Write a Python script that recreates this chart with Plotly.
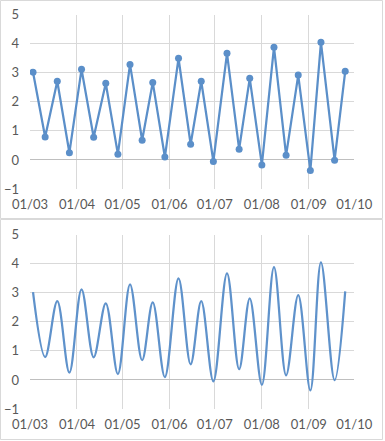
import plotly.graph_objects as go

dates = ["2023-03-03", "2023-03-11", "2023-03-19", "2023-03-27", "2023-04-04", "2023-04-12",
         "2023-04-20", "2023-04-28", "2023-05-06", "2023-05-14", "2023-05-21", "2023-05-29",
         "2023-06-07", "2023-06-15", "2023-06-22", "2023-06-30", "2023-07-09", "2023-07-17",
         "2023-07-24", "2023-08-01", "2023-08-09", "2023-08-17", "2023-08-25", "2023-09-02",
         "2023-09-09", "2023-09-18", "2023-09-25"]
values = [3.02, 0.79, 2.71, 0.25, 3.12, 0.78, 2.64, 0.20, 3.29, 0.68, 2.67, 0.10, 3.50, 0.54,
          2.71, -0.05, 3.67, 0.37, 2.81, -0.17, 3.88, 0.16, 2.92, -0.36, 4.05, -0.01, 3.05]
tick_dates = ["2023-03-01", "2023-04-01", "2023-05-01", "2023-06-01", "2023-07-01",
              "2023-08-01", "2023-09-01", "2023-10-01"]
tick_labels = ["01/03", "01/04", "01/05", "01/06", "01/07", "01/08", "01/09", "01/10"]

W, H = 385, 441
color = "#5b8fc9"
font = dict(family="Lato, 'Open Sans', sans-serif", size=13, color="#595959")

def px(x):
    return x / W

def py(y):
    return 1 - y / H

fig = go.Figure()
fig.add_trace(go.Scatter(x=dates, y=values, mode="lines+markers",
                         line=dict(color=color, width=2.25),
                         marker=dict(color=color, size=7), xaxis="x", yaxis="y"))
fig.add_trace(go.Scatter(x=dates, y=values, mode="lines",
                         line=dict(color="#5f92cb", width=2.25, shape="spline", smoothing=1),
                         xaxis="x2", yaxis="y2"))

xcommon = dict(type="date", range=["2023-03-01", "2023-10-01"], tickvals=tick_dates,
               ticktext=tick_labels, showgrid=True, gridcolor="#d9d9d9", gridwidth=1,
               zeroline=False, showline=False, ticks="", tickfont=font, automargin=False,
               ticklabelstandoff=6, domain=[px(30), px(354.3)])
ycommon = dict(range=[-1, 5], dtick=1, tick0=0, showgrid=True, gridcolor="#d9d9d9",
               gridwidth=1, zeroline=True, zerolinecolor="#bfbfbf", zerolinewidth=1,
               showline=False, ticks="", tickfont=font, automargin=False,
               ticklabelstandoff=10)

fig.update_layout(
    width=W, height=H, margin=dict(l=0, r=0, t=0, b=0),
    paper_bgcolor="white", plot_bgcolor="white", showlegend=False,
    xaxis=dict(**xcommon, anchor="y"),
    yaxis=dict(**ycommon, anchor="x", domain=[py(189), py(14.7)]),
    xaxis2=dict(**xcommon, anchor="y2"),
    yaxis2=dict(**ycommon, anchor="x2", domain=[py(409), py(234.7)]),
    shapes=[
        dict(type="rect", xref="paper", yref="paper", x0=px(0.5), x1=px(382.5),
             y0=py(218.5), y1=py(0.5), line=dict(color="#d9d9d9", width=1)),
        dict(type="rect", xref="paper", yref="paper", x0=px(0.5), x1=px(382.5),
             y0=py(439.5), y1=py(219.5), line=dict(color="#d9d9d9", width=1)),
    ],
)

fig.write_html("out.html", config={"displayModeBar": False},
               post_script="document.body.style.margin='0';document.body.style.overflow='hidden';")
